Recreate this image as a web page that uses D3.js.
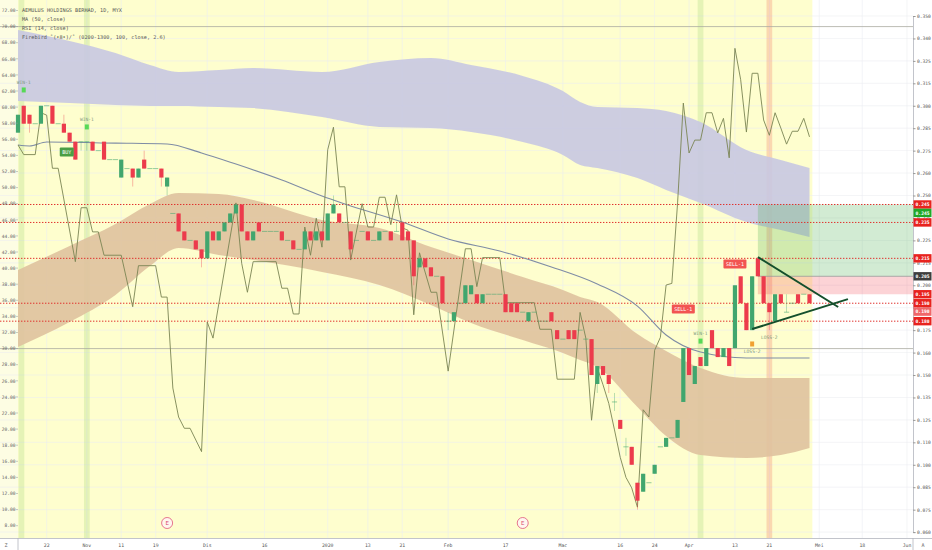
<!DOCTYPE html>
<html><head><meta charset="utf-8">
<script src="https://cdnjs.cloudflare.com/ajax/libs/d3/7.8.5/d3.min.js"></script>
<style>body{margin:0;background:#fff}svg{display:block}</style>
</head><body><svg id="c" width="932" height="550"></svg>
<script>
// ---------- DATA ----------
const title = ["AEMULUS HOLDINGS BERHAD, 1D, MYX","MA (50, close)","RSI (14, close)","Firebird ˚(•8•)/˚ (0200-1300, 100, close, 2.6)"];
const open  = [.285,.300,.295,.290,.290,.300,.300,.290,.290,.285,.280,.280,.280,.280,.275,.280,.270,.270,.260,.265,
               .265,.260,.270,.265,.265,.265,.255,.240,.240,.230,.225,.225,.220,.215,.230,.225,.230,.235,.240,.245,
               .230,.225,.235,.230,.230,.230,.230,.225,.225,.220,.220,.230,.225,.230,.225,.240,.240,.235,.230,.225,
               .230,.230,.225,.225,.230,.230,.230,.235,.230,.225,.210,.215,.210,.205,.205,.180,.180,.190,.190,.195,
               .195,.190,.195,.195,.195,.195,.190,.190,.185,.180,.185,.180,.180,.185,.175,.170,.175,.175,.175,.170,
               .170,.145,.155,.150,.135,.125,.110,.110,.090,.085,.090,.095,.110,.110,.115,.115,.135,.165,.145,.160,
               .155,.175,.165,.160,.165,.165,.205,.190,.175,.215,.205,.190,.180,.195,.185,.190,.195,.195,.195];
const high  = [.295,.300,.295,.290,.300,.300,.300,.290,.295,.285,.280,.280,.280,.280,.275,.280,.270,.270,.270,.265,
               .265,.265,.275,.265,.265,.265,.260,.240,.240,.230,.225,.225,.220,.230,.230,.230,.235,.240,.245,.245,
               .230,.230,.235,.230,.230,.230,.230,.225,.225,.220,.230,.230,.230,.230,.240,.250,.240,.235,.230,.225,
               .230,.230,.225,.230,.230,.230,.235,.235,.230,.225,.215,.215,.210,.205,.205,.185,.185,.190,.200,.200,
               .195,.195,.195,.195,.195,.195,.190,.190,.185,.185,.185,.180,.180,.185,.175,.170,.175,.175,.175,.170,
               .170,.155,.155,.150,.140,.125,.115,.110,.090,.095,.090,.100,.110,.115,.115,.125,.165,.165,.155,.160,
               .165,.175,.165,.165,.165,.200,.205,.190,.205,.215,.205,.190,.195,.195,.195,.190,.195,.195,.195];
const low   = [.285,.290,.285,.290,.290,.300,.290,.290,.285,.280,.270,.275,.275,.275,.275,.270,.270,.270,.260,.265,
               .255,.260,.265,.265,.265,.255,.250,.240,.230,.225,.225,.220,.210,.215,.225,.225,.230,.235,.240,.230,
               .225,.225,.230,.230,.230,.230,.225,.225,.220,.220,.220,.225,.225,.225,.225,.240,.235,.235,.215,.225,
               .230,.225,.225,.225,.230,.225,.230,.225,.225,.200,.210,.210,.205,.205,.190,.175,.180,.190,.190,.195,
               .190,.190,.195,.195,.195,.185,.185,.185,.185,.180,.185,.180,.180,.180,.170,.170,.170,.170,.175,.170,
               .150,.140,.150,.140,.130,.120,.105,.100,.075,.085,.090,.095,.110,.110,.115,.115,.135,.150,.145,.155,
               .155,.165,.160,.160,.155,.165,.190,.175,.175,.205,.190,.175,.180,.190,.185,.190,.190,.195,.190];
const close = [.295,.290,.290,.290,.300,.300,.290,.290,.285,.280,.270,.280,.280,.275,.275,.270,.270,.270,.270,.265,
               .260,.265,.265,.265,.265,.260,.260,.240,.230,.225,.225,.220,.215,.230,.225,.230,.235,.240,.245,.230,
               .225,.230,.230,.230,.230,.230,.225,.225,.220,.220,.230,.225,.230,.225,.240,.245,.235,.235,.220,.225,
               .230,.225,.225,.230,.230,.225,.230,.225,.225,.205,.215,.210,.205,.205,.190,.180,.185,.190,.200,.200,
               .190,.195,.195,.195,.195,.185,.185,.185,.185,.185,.185,.180,.180,.180,.170,.170,.170,.170,.175,.170,
               .150,.155,.150,.145,.135,.120,.110,.100,.080,.095,.090,.100,.110,.115,.115,.125,.165,.150,.155,.155,
               .165,.165,.160,.165,.155,.200,.190,.175,.205,.205,.190,.185,.195,.190,.185,.190,.190,.195,.190];

// RSI (left scale) vertices: bar index / value
const rsiIdx = [0,1,3,4,5,6,7,10,11,12,13,14,15,18,20,21,24,25,26,27,28,29,30,32,33,34,38,39,40,41,45,46,47,48,49,50,51,52,53,54,55,56,57,58,60,61,62,63,64,65,66,67,68,69,70,72,73,75,78,79,80,81,84,85,90,91,93,94,97,98,99,100,101,102,103,104,105,106,107,108,109,110,111,112,113,114,115,116,117,118,119,120,121,122,123,124,125,126,127,128,129,130,131,132,133,134,135,136,137,138];
const rsiVal = [55.3,54.1,54.1,59.3,59.0,52.4,52.4,40.8,47.5,47.5,44.5,44.5,41.6,41.6,35.2,40.3,40.3,36.4,36.4,25.1,21.5,20.1,20.1,17.2,33.3,31.3,48.1,40.6,37.0,40.8,40.8,37.5,37.5,34.3,34.3,45.1,41.6,46.2,42.6,54.7,57.5,50.1,50.1,41.0,48.0,45.1,45.1,48.8,48.8,45.4,49.1,45.0,44.7,34.2,41.9,37.0,37.0,27.2,42.4,42.4,37.7,41.3,41.3,35.7,35.7,32.4,32.4,26.2,26.2,34.5,31.3,21.1,27.6,25.5,23.2,19.9,16.5,14.0,12.7,10.3,22.4,21.5,29.8,31.4,37.9,38.1,48.1,60.5,54.3,55.9,55.9,59.3,59.3,56.8,58.6,53.7,67.3,63.4,56.9,64.2,64.2,58.4,56.5,59.3,57.4,55.4,57.0,57.0,58.6,56.3];
const rsiLevels = [70, 30];

// MA(50)
const maIdx = [0,2,5,17,26,32,38,46,53,57,67,75,84,93,101,108,113,119,127,138];
const maVal = [.2781,.2776,.2798,.2792,.2787,.2737,.2675,.2586,.2497,.2453,.2352,.2258,.2191,.2102,.2007,.1884,.1723,.1628,.1595,.1595];

// Firebird bands
const bandIdx   = [0,9,17,23,28,35,41,53,63,72,79,88,95,98,101,108,113,119,127,133,138];
const upperTop  = [.3422,.3361,.3294,.3227,.3188,.3199,.3210,.3188,.3244,.3266,.3227,.3166,.3082,.3021,.2993,.2987,.2971,.2909,.2753,.2698,.2653];
const upperBot  = [.3026,.3015,.3004,.2999,.2999,.2993,.2987,.2937,.2882,.2876,.2854,.2798,.2726,.2670,.2653,.2597,.2531,.2458,.2352,.2308,.2269];
const lowerTop  = [.2085,.2219,.2341,.2453,.2514,.2508,.2475,.2364,.2319,.2213,.2141,.2046,.1974,.1935,.1907,.1728,.1634,.1539,.1483,.1483,.1483];
const lowerBot  = [.1656,.1795,.1946,.2107,.2208,.2169,.2141,.2074,.2001,.1890,.1790,.1695,.1623,.1584,.1545,.1322,.1160,.1054,.1038,.1054,.1093];

// levels
const redLevels = [0.245, 0.235, 0.215, 0.190, 0.180];
const entryPrice = 0.205, targetPrice = 0.245, stopPrice = 0.195, tradeStart = 129;
const trendA = {i:[129,143], p:[0.2157,0.1879]};
const trendB = {i:[128,144.7], p:[0.1756,0.1923]};

// highlight bars
const winBars = [0.6, 12, 119];
const lossBars = [131];
const earnIdx = [26, 88];

// signal labels
const sigIdx   = [1, 12, 119, 128, 131];
const sigPrice = [0.3088, 0.2882, 0.1689, 0.1673, 0.1700];
const sigText  = ["WIN-1","WIN-1","WIN-1","LOSS-2","LOSS-2"];
const sigKind  = ["win","win","win","loss","none"];
const boxIdx   = [8.5, 116, 125];
const boxPrice = [0.2742, 0.1868, 0.2118];
const boxText  = ["BUY","SELL-1","SELL-1"];
const boxKind  = ["buy","sell","sell"];

// axes
const rightTicks  = [0.35,0.3375,0.325,0.3125,0.3,0.2875,0.275,0.2625,0.25,0.2375,0.225,0.2125,0.2,0.1875,0.175,0.1625,0.15,0.1375,0.125,0.1125,0.1,0.0875,0.075,0.0625];
const rightLabels = ["0.350","0.340","0.325","0.315","0.300","0.285","0.275","0.260","0.250","0.235","0.225","0.215","0.200","0.185","0.175","0.160","0.150","0.135","0.125","0.110","0.100","0.085","0.075","0.060"];
const leftTicks = d3.range(72, 7, -2);
const bottomIdx    = [5,12,18,24,33,43,54,61,67,75,85,95,105,111,117,125,131,139.7,147.2,155];
const bottomLabels = ["22","Nov","11","19","Dis","16","2020","13","21","Feb","17","Mac","16","24","Apr","13","21","Mei","18","Jun"];
const priceTags = [
  {v:0.245,t:"0.245",c:"#e8231f"},{v:0.245,t:"0.245",c:"#21a929"},{v:0.235,t:"0.235",c:"#e8231f"},
  {v:0.215,t:"0.215",c:"#e8231f"},{v:0.205,t:"0.205",c:"#3e3e3e"},{v:0.195,t:"0.195",c:"#e8231f"},
  {v:0.190,t:"0.190",c:"#e8231f"},{v:0.190,t:"0.190",c:"#f0676a"},{v:0.180,t:"0.180",c:"#e8231f"}];

// ---------- DRAW ----------
const svg = d3.select("#c");
const plotR = 913, plotB = 538;
const x  = d3.scaleLinear().domain([0,138]).range([18,809.5]);
const y  = d3.scaleLinear().domain([0.0625,0.35]).range([532.1,16]);
const yL = d3.scaleLinear().domain([8,72]).range([525.7,10.5]);
const bw = x(1)-x(0);
const UP="#41a66e", DN="#ec3b4c";
const FONT="'DejaVu Sans Mono', monospace";

svg.append("rect").attr("width",932).attr("height",550).attr("fill","#fff");
svg.append("rect").attr("x",0).attr("y",0).attr("width",x(138.5)).attr("height",plotB).attr("fill","#fefece");
svg.append("rect").attr("x",0).attr("y",0).attr("width",x(0)).attr("height",plotB).attr("fill","#fdfde3");

// grid
const g0 = svg.append("g");
g0.selectAll("line.h").data(rightTicks).join("line")
  .attr("x1",0).attr("x2",plotR).attr("y1",d=>y(d)).attr("y2",d=>y(d))
  .attr("stroke","#eceef2").attr("stroke-width",0.7).attr("opacity",0.8);
g0.selectAll("line.v").data(bottomIdx).join("line")
  .attr("x1",d=>x(d)).attr("x2",d=>x(d)).attr("y1",0).attr("y2",plotB)
  .attr("stroke","#eceef2").attr("stroke-width",0.7).attr("opacity",0.8);

// highlight strips
svg.selectAll("rect.win").data(winBars).join("rect")
  .attr("x",d=>x(d)-bw/2).attr("y",0).attr("width",bw).attr("height",plotB)
  .attr("fill","rgba(140,205,100,0.22)");
svg.selectAll("rect.loss").data(lossBars).join("rect")
  .attr("x",d=>x(d)-bw/2).attr("y",0).attr("width",bw).attr("height",plotB)
  .attr("fill","rgba(240,120,100,0.28)");

// bands
const idxs = d3.range(bandIdx.length);
const area = (top,bot)=>d3.area().x(k=>x(bandIdx[k])).y0(k=>y(bot[k])).y1(k=>y(top[k])).curve(d3.curveMonotoneX);
svg.append("path").attr("d",area(upperTop,upperBot)(idxs)).attr("fill","#c8c8e2").attr("opacity",0.9);
svg.append("path").attr("d",area(lowerTop,lowerBot)(idxs)).attr("fill","#dfc29f").attr("opacity",0.9);

// trade boxes
svg.append("rect").attr("x",x(tradeStart)).attr("y",y(targetPrice)).attr("width",plotR-x(tradeStart))
  .attr("height",y(entryPrice)-y(targetPrice)).attr("fill","rgba(76,175,80,0.25)");
svg.append("rect").attr("x",x(tradeStart)).attr("y",y(entryPrice)).attr("width",plotR-x(tradeStart))
  .attr("height",y(stopPrice)-y(entryPrice)).attr("fill","rgba(242,54,69,0.22)");
svg.append("line").attr("x1",x(tradeStart)).attr("x2",plotR).attr("y1",y(entryPrice)).attr("y2",y(entryPrice))
  .attr("stroke","#9a9a9a").attr("stroke-width",0.8);

// RSI levels
svg.selectAll("line.lv").data(rsiLevels).join("line")
  .attr("x1",0).attr("x2",plotR).attr("y1",d=>yL(d)).attr("y2",d=>yL(d))
  .attr("stroke","#aaa9a0").attr("stroke-width",0.8);

// red dotted levels
svg.selectAll("line.rl").data(redLevels).join("line")
  .attr("x1",0).attr("x2",plotR).attr("y1",d=>y(d)).attr("y2",d=>y(d))
  .attr("stroke","#e0302c").attr("stroke-width",1).attr("stroke-dasharray","1.4,1.6");

// MA
svg.append("path").attr("d",d3.line().x(k=>x(maIdx[k])).y(k=>y(maVal[k])).curve(d3.curveMonotoneX)(d3.range(maIdx.length)))
  .attr("fill","none").attr("stroke","#7f8ca5").attr("stroke-width",1.1);

// RSI
svg.append("path").attr("d",d3.line().x(k=>x(rsiIdx[k])).y(k=>yL(rsiVal[k]))(d3.range(rsiIdx.length)))
  .attr("fill","none").attr("stroke","#7b8553").attr("stroke-width",0.9);

// candles
const bars = d3.range(close.length);
const cg = svg.append("g");
cg.selectAll("line.w").data(bars).join("line")
  .attr("x1",i=>x(i)).attr("x2",i=>x(i)).attr("y1",i=>y(high[i])).attr("y2",i=>y(low[i]))
  .attr("stroke",i=>close[i]>=open[i]?UP:DN).attr("stroke-width",0.8).attr("opacity",0.45);
cg.selectAll("rect.b").data(bars.filter(i=>close[i]!==open[i])).join("rect")
  .attr("x",i=>x(i)-2.1).attr("width",4.2)
  .attr("y",i=>y(Math.max(open[i],close[i])))
  .attr("height",i=>Math.abs(y(open[i])-y(close[i])))
  .attr("fill",i=>close[i]>open[i]?UP:DN);
cg.selectAll("line.d").data(bars.filter(i=>close[i]===open[i])).join("line")
  .attr("x1",i=>x(i)-2.6).attr("x2",i=>x(i)+2.6).attr("y1",i=>y(close[i])).attr("y2",i=>y(close[i]))
  .attr("stroke",UP).attr("stroke-width",1).attr("opacity",0.55);

// trend lines
[trendA,trendB].forEach(t=>{
  svg.append("line").attr("x1",x(t.i[0])).attr("y1",y(t.p[0])).attr("x2",x(t.i[1])).attr("y2",y(t.p[1]))
    .attr("stroke","#144f2c").attr("stroke-width",2);
});

// signal markers and labels
sigIdx.forEach((iv,k)=>{
  const cx=x(iv), cy=y(sigPrice[k]);
  if(sigKind[k]==="win") svg.append("rect").attr("x",cx-2).attr("y",cy-2.5).attr("width",4).attr("height",5).attr("fill","#57d957");
  if(sigKind[k]==="loss") svg.append("rect").attr("x",cx-2).attr("y",cy-2.5).attr("width",4).attr("height",5).attr("fill","#f0a030");
  const ty = sigKind[k]==="loss" ? cy+9 : (sigKind[k]==="none"? cy : cy-6);
  svg.append("text").attr("x",cx).attr("y",ty).attr("text-anchor","middle")
    .attr("font-family",FONT).attr("font-size",4.6).attr("fill","#7e9a7e").text(sigText[k]);
});
boxIdx.forEach((iv,k)=>{
  const cx=x(iv), cy=y(boxPrice[k]);
  const w = boxText[k].length*3+5;
  svg.append("rect").attr("x",cx-w/2).attr("y",cy-4.5).attr("width",w).attr("height",9).attr("rx",1)
    .attr("fill",boxKind[k]==="buy"?"#4a9e45":"#f25452");
  svg.append("text").attr("x",cx).attr("y",cy+1.8).attr("text-anchor","middle")
    .attr("font-family",FONT).attr("font-size",5).attr("fill","#fff").text(boxText[k]);
});

// earnings markers
earnIdx.forEach(iv=>{
  svg.append("circle").attr("cx",x(iv)).attr("cy",523).attr("r",5.5).attr("fill","#fff6ee").attr("stroke","#e0557a").attr("stroke-width",0.8);
  svg.append("text").attr("x",x(iv)).attr("y",525).attr("text-anchor","middle").attr("font-family","'DejaVu Sans',sans-serif")
    .attr("font-size",5.5).attr("fill","#d8406a").text("E");
});

// header
title.forEach((t,k)=>{
  svg.append("text").attr("x",22).attr("y",12+k*9).attr("font-family",FONT).attr("font-size",5.2).attr("fill","#555").text(t);
});

// left axis (RSI scale)
const la = svg.append("g");
la.selectAll("text").data(leftTicks).join("text")
  .attr("x",15.5).attr("y",d=>yL(d)+1.7).attr("text-anchor","end")
  .attr("font-family",FONT).attr("font-size",4.6).attr("fill","#666").text(d=>d.toFixed(2));
la.selectAll("line").data(leftTicks).join("line")
  .attr("x1",16).attr("x2",18).attr("y1",d=>yL(d)).attr("y2",d=>yL(d)).attr("stroke","#999").attr("stroke-width",0.5);

// right axis
svg.append("rect").attr("x",plotR).attr("y",0).attr("width",932-plotR).attr("height",550).attr("fill","#fff");
const ra = svg.append("g").attr("transform",`translate(${plotR},0)`)
  .call(d3.axisRight(y).tickValues(rightTicks).tickFormat((d,k)=>rightLabels[k]).tickSize(2.5).tickPadding(1.5));
ra.select(".domain").attr("stroke","#b2b5be").attr("stroke-width",0.8);
ra.selectAll("line").attr("stroke","#999");
ra.selectAll("text").attr("font-family",FONT).attr("font-size",4.6).attr("fill","#555");

// price tags (stacked)
let lastY=-100;
priceTags.map(d=>({...d,py:y(d.v)})).sort((a,b)=>a.py-b.py).forEach(d=>{
  let py = Math.max(d.py, lastY+8.4); lastY=py;
  svg.append("rect").attr("x",plotR+0.5).attr("y",py-4.2).attr("width",18).attr("height",8.4).attr("fill",d.c);
  svg.append("text").attr("x",plotR+2.5).attr("y",py+1.7).attr("font-family",FONT).attr("font-size",4.7)
    .attr("font-weight","bold").attr("fill","#fff").text(d.t);
});

// bottom axis
svg.append("rect").attr("x",0).attr("y",plotB).attr("width",932).attr("height",550-plotB).attr("fill","#fff");
svg.append("line").attr("x1",0).attr("x2",932).attr("y1",plotB+0.5).attr("y2",plotB+0.5).attr("stroke","#b2b5be").attr("stroke-width",0.8);
svg.append("line").attr("x1",plotR).attr("x2",plotR).attr("y1",plotB).attr("y2",550).attr("stroke","#b2b5be").attr("stroke-width",0.8);
svg.append("line").attr("x1",18).attr("x2",18).attr("y1",plotB).attr("y2",550).attr("stroke","#b2b5be").attr("stroke-width",0.8);
const ba = svg.append("g");
ba.selectAll("text").data(bottomIdx).join("text")
  .attr("x",d=>x(d)).attr("y",546.5).attr("text-anchor","middle")
  .attr("font-family",FONT).attr("font-size",4.8).attr("fill","#555").text((d,k)=>bottomLabels[k]);
svg.append("text").attr("x",6).attr("y",546.5).attr("text-anchor","middle").attr("font-family",FONT).attr("font-size",5).attr("fill","#666").text("Z");
svg.append("text").attr("x",923).attr("y",546.5).attr("text-anchor","middle").attr("font-family",FONT).attr("font-size",5).attr("fill","#666").text("A");
</script>
</body></html>
